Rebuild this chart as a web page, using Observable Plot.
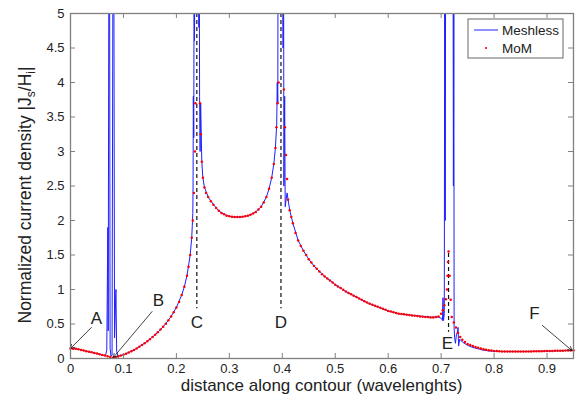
<!DOCTYPE html>
<html><head><meta charset="utf-8">
<script src="https://cdn.jsdelivr.net/npm/d3@7"></script>
<script src="https://cdn.jsdelivr.net/npm/@observablehq/plot@0.6"></script>
<style>body{margin:0;background:#fff} svg{font-family:"Liberation Sans",Arial,Helvetica,sans-serif}</style>
</head><body><div id="chart"></div>
<script>
const xTicks = [0,0.1,0.2,0.3,0.4,0.5,0.6,0.7,0.8,0.9];
const yTicks = [0,0.5,1,1.5,2,2.5,3,3.5,4,4.5,5];

// MoM (red dots)
const momX = [0,.005,.01,.015,.02,.025,.03,.035,.04,.045,.05,.055,.06,.065,.07,.075,.08,.085,.09,.095,
.1,.105,.11,.115,.12,.125,.13,.135,.14,.145,.15,.155,.16,.165,.17,.175,.18,.185,.19,.195,
.2,.205,.21,.215,.22,.223,.226,.229,.231,.233,.235,.236,.2445,.246,.248,.25,.253,.256,.26,.265,
.27,.275,.28,.285,.29,.295,.3,.305,.31,.315,.32,.325,.33,.335,.34,.345,.35,.355,.36,.365,
.37,.375,.38,.384,.387,.389,.391,.393,.403,.405,.407,.409,.411,.414,.417,.42,.425,.43,.435,.44,
.445,.45,.455,.46,.465,.47,.475,.48,.485,.49,.495,.5,.505,.51,.515,.52,.525,.53,.535,.54,
.545,.55,.555,.56,.565,.57,.575,.58,.585,.59,.595,.6,.605,.61,.615,.62,.625,.63,.635,.64,
.645,.65,.655,.66,.665,.67,.675,.68,.685,.69,.695,.7,.703,.706,.709,.711,.712,.713,.714,.716,
.718,.72,.724,.728,.732,.736,.74,.745,.75,.755,.76,.765,.77,.775,.78,.785,.79,.795,.8,.805,
.81,.815,.82,.825,.83,.835,.84,.845,.85,.855,.86,.865,.87,.875,.88,.885,.89,.895,.9,.905,
.91,.915,.92,.925,.93,.935,.94,.945,.95];
const momY = [.145,.143,.14,.133,.125,.115,.105,.097,.089,.08,.071,.062,.052,.042,.032,.022,.012,.018,.03,.042,
.055,.07,.087,.105,.125,.146,.17,.195,.222,.25,.28,.312,.345,.38,.42,.46,.505,.555,.61,.67,
.74,.82,.92,1.04,1.2,1.33,1.5,1.75,2,2.4,3,3.7,3.7,3.25,2.85,2.62,2.48,2.4,2.34,2.28,
2.23,2.18,2.14,2.11,2.09,2.07,2.06,2.055,2.05,2.05,2.05,2.055,2.06,2.07,2.085,2.1,2.125,2.16,2.2,2.26,
2.34,2.46,2.62,2.82,3.05,3.35,3.7,4,3.9,3.35,2.95,2.6,2.3,2.15,2.05,1.96,1.82,1.71,1.63,1.56,
1.5,1.44,1.39,1.34,1.3,1.26,1.22,1.19,1.16,1.13,1.1,1.07,1.045,1.02,.995,.97,.95,.93,.91,.89,
.87,.85,.83,.81,.795,.78,.765,.75,.735,.72,.705,.69,.68,.67,.66,.65,.645,.64,.635,.63,
.625,.62,.615,.61,.605,.6,.6,.595,.595,.6,.61,.65,.7,.77,.86,1,1.2,1.4,1.55,1.2,
.85,.6,.52,.45,.37,.31,.27,.24,.21,.195,.18,.165,.155,.145,.135,.127,.12,.115,.11,.107,
.105,.103,.1,.1,.1,.1,.1,.1,.1,.1,.101,.102,.103,.104,.105,.105,.106,.107,.108,.109,
.11,.111,.112,.113,.114,.115,.116,.117,.118];

// Meshless (blue line)
const meshX = [0,.01,.02,.03,.04,.05,.06,.066,.0685,.0705,.0712,.0725,.0738,.0748,.0765,.0785,.0802,.0818,.0832,.0858,
.0872,.09,.095,.1,.11,.12,.13,.14,.15,.16,.17,.18,.19,.2,.21,.215,.22,.226,.229,.231,
.2315,.232,.2328,.2335,.2342,.235,.2418,.2425,.2432,.2438,.2448,.2458,.248,.25,.253,.26,.27,.28,.29,.3,
.31,.32,.33,.34,.35,.36,.37,.375,.38,.384,.387,.3895,.3905,.3915,.392,.394,.396,.4005,.4015,.4025,
.403,.4045,.4055,.409,.411,.414,.42,.43,.44,.45,.46,.48,.5,.52,.54,.56,.58,.6,.62,.64,
.66,.68,.695,.701,.7025,.7035,.7045,.706,.7068,.7078,.7085,.7225,.7232,.724,.7245,.7255,.727,.729,.7305,.732,
.733,.735,.74,.75,.76,.77,.78,.79,.8,.82,.85,.9,.95];
const meshY = [.145,.14,.125,.105,.089,.071,.052,.04,.12,1.9,.4,6,6,.15,.03,.05,6,6,.3,1.0,
.1,.035,.042,.055,.087,.125,.17,.222,.28,.345,.42,.505,.61,.74,.92,1.04,1.2,1.5,1.75,2.1,
2.5,3.8,3.2,6,4.6,6,6,4.8,6,3.8,3.0,3.7,2.85,2.62,2.48,2.34,2.23,2.14,2.09,2.06,
2.05,2.05,2.06,2.085,2.125,2.2,2.34,2.46,2.62,2.82,3.05,3.4,4,3.7,6,5.2,6,6,4.5,6,
2.5,3.8,2.2,2.4,2.3,2.15,1.96,1.71,1.56,1.44,1.34,1.19,1.07,.97,.89,.81,.75,.69,.65,.63,
.615,.6,.6,.58,.55,.88,.55,.65,6,2,6,6,2.5,6,.45,.3,.22,.35,.38,.45,
.18,.28,.24,.19,.16,.14,.12,.11,.105,.1,.1,.107,.118];

// dashed markers C, D, E
const markX = [0.2386, 0.3975, 0.714];
const markTop = [5, 5, 1.52];
const markBottom = [0.72, 0.72, 0.38];

// letters
const letters = ["A","B","C","D","E","F"];
const letterX = [0.049, 0.166, 0.2386, 0.3975, 0.712, 0.876];
const letterY = [0.58, 0.84, 0.52, 0.52, 0.22, 0.65];

// arrows A, B, F
const arrFromX = [0.0395, 0.154, 0.891];
const arrFromY = [0.45, 0.68, 0.48];
const arrToX = [0, 0.081, 0.947];
const arrToY = [0.145, 0.015, 0.116];

const W = 581, H = 401, mL = 70, mR = 8, mT = 13, mB = 43;
const iw = W - mL - mR, ih = H - mT - mB;
const axisGray = "#808080";
const blue = "#2020ff", red = "#ff0000";

const mom = momX.map((x, i) => ({x, y: momY[i]}));
const mesh = meshX.map((x, i) => ({x, y: meshY[i]}));
const marks = markX.map((x, i) => ({x, y1: markTop[i], y2: markBottom[i]}));
const lab = letters.map((t, i) => ({t, x: letterX[i], y: letterY[i]}));
const arrs = arrFromX.map((x, i) => ({x1: x, y1: arrFromY[i], x2: arrToX[i], y2: arrToY[i]}));

const plot = Plot.plot({
  width: W, height: H,
  marginLeft: mL, marginRight: mR, marginTop: mT, marginBottom: mB,
  x: {domain: [0, 0.95], label: null},
  y: {domain: [0, 5], label: null},
  style: {fontFamily: '"Liberation Sans",Arial,sans-serif', fontSize: "13px", color: "#222", background: "white"},
  marks: [
    Plot.axisX({ticks: xTicks, tickSize: 0, tickPadding: 5, tickFormat: d => String(d), label: null, fontSize: 13}),
    Plot.axisY({ticks: yTicks, tickSize: 0, tickPadding: 6, tickFormat: d => String(d), label: null, fontSize: 13}),
    Plot.line(mesh, {x: "x", y: "y", stroke: blue, strokeWidth: 1, clip: true}),
    Plot.ruleX(marks, {x: "x", y1: "y1", y2: "y2", stroke: "#111", strokeWidth: 1.2, strokeDasharray: "4,3"}),
    Plot.dot(mom, {x: "x", y: "y", r: 1.25, fill: red, stroke: null}),
    Plot.arrow(arrs, {x1: "x1", y1: "y1", x2: "x2", y2: "y2", stroke: "#111", strokeWidth: 0.8, headLength: 8}),
    Plot.text(lab, {x: "x", y: "y", text: "t", fontSize: 17, fill: "#222"}),
    Plot.tickX(xTicks, {x: d => d, insetTop: ih - 5, stroke: axisGray}),
    Plot.tickX(xTicks, {x: d => d, insetBottom: ih - 5, stroke: axisGray}),
    Plot.tickY(yTicks, {y: d => d, insetLeft: iw - 5, stroke: axisGray}),
    Plot.tickY(yTicks, {y: d => d, insetRight: iw - 5, stroke: axisGray}),
    Plot.frame({stroke: axisGray, strokeWidth: 1.3})
  ]
});

const svg = d3.select(plot);
// x label
svg.append("text").attr("x", mL + iw / 2).attr("y", 391).attr("text-anchor", "middle")
  .attr("font-size", 17).attr("fill", "#222").text("distance along contour (wavelenghts)");
// y label with subscripts
const yl = svg.append("text").attr("transform", "translate(31,195) rotate(-90)")
  .attr("text-anchor", "middle").attr("font-size", 17.5).attr("fill", "#222");
yl.append("tspan").text("Normalized current density |J");
yl.append("tspan").attr("font-size", 12).attr("dy", 4).text("s");
yl.append("tspan").attr("dy", -4).text("/H");
yl.append("tspan").attr("font-size", 12).attr("dy", 4).text("i");
yl.append("tspan").attr("dy", -4).text("|");
// legend
const lg = svg.append("g").attr("font-size", 13.5).attr("fill", "#222").attr("text-anchor", "start");
lg.append("rect").attr("x", 468).attr("y", 19).attr("width", 95).attr("height", 39)
  .attr("fill", "white").attr("stroke", axisGray).attr("stroke-width", 1.2);
lg.append("line").attr("x1", 474).attr("x2", 498).attr("y1", 30).attr("y2", 30)
  .attr("stroke", blue).attr("stroke-width", 1);
lg.append("text").attr("x", 502).attr("y", 35).attr("text-anchor", "start").text("Meshless");
lg.append("circle").attr("cx", 486).attr("cy", 48).attr("r", 1.1).attr("fill", red);
lg.append("text").attr("x", 502).attr("y", 53).attr("text-anchor", "start").text("MoM");

document.getElementById("chart").appendChild(plot);
</script>
</body></html>
